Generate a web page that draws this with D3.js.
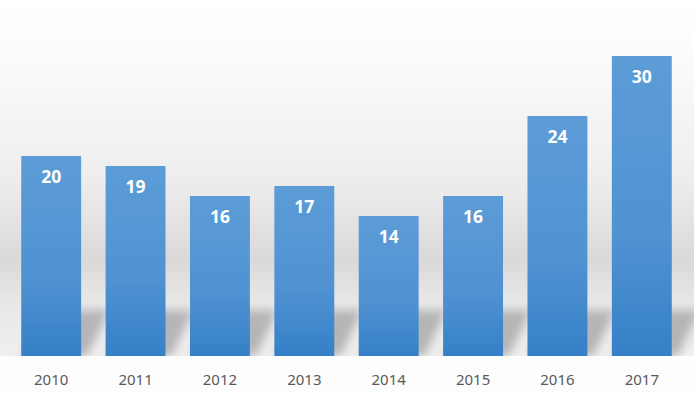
<!DOCTYPE html>
<html>
<head>
<meta charset="utf-8">
<script src="https://cdn.jsdelivr.net/npm/d3@7"></script>
<style>
  body { margin: 0; background: #fff; }
  svg { display: block; }
</style>
</head>
<body>
<svg id="chart"></svg>
<script>
const years = ["2010", "2011", "2012", "2013", "2014", "2015", "2016", "2017"];
const counts = [20, 19, 16, 17, 14, 16, 24, 30];

const width = 694, height = 394;
const baseY = 356;

const svg = d3.select("#chart")
    .attr("width", width)
    .attr("height", height)
    .style("font-family", "'Noto Sans', sans-serif");

const defs = svg.append("defs");

// backdrop: white at top, grey band in the middle, pale again low down
const bg = defs.append("linearGradient")
    .attr("id", "bg").attr("x1", 0).attr("y1", 0).attr("x2", 0).attr("y2", 1);
[[0, "#ffffff"], [0.12, "#fcfcfc"], [0.45, "#eeeeee"], [0.66, "#d9d9d9"],
 [0.76, "#e7e7e7"], [0.9, "#efefef"], [0.93, "#fbfbfb"], [1, "#ffffff"]]
    .forEach(s => bg.append("stop").attr("offset", s[0]).attr("stop-color", s[1]));

const barGrad = defs.append("linearGradient")
    .attr("id", "barGrad").attr("x1", 0).attr("y1", 0).attr("x2", 0).attr("y2", 1);
barGrad.append("stop").attr("offset", 0).attr("stop-color", "#5c9cd7");
barGrad.append("stop").attr("offset", 0.6).attr("stop-color", "#5092d2");
barGrad.append("stop").attr("offset", 1).attr("stop-color", "#3580c8");

defs.append("filter").attr("id", "blur")
    .attr("x", "-20%").attr("y", "-50%").attr("width", "140%").attr("height", "200%")
    .append("feGaussianBlur").attr("stdDeviation", 5);

svg.append("rect")
    .attr("width", width).attr("height", height)
    .attr("fill", "url(#bg)");

const x = d3.scaleBand()
    .domain(years)
    .range([9, 684])
    .paddingInner(0.29)
    .paddingOuter(0.145);

const y = d3.scaleLinear()
    .domain([0, 30])
    .range([baseY, 56]);

// soft shadow cast backwards from each bar's foot
svg.append("g")
    .attr("filter", "url(#blur)")
    .selectAll("path")
    .data(years)
    .enter().append("path")
    .attr("fill", "#b5b5b5")
    .attr("d", d => {
        const x0 = x(d), x1 = x(d) + x.bandwidth();
        return `M${x0},${baseY} L${x0 + 30},${baseY - 46} L${x1 + 28},${baseY - 46} L${x1 + 6},${baseY} Z`;
    });

svg.append("rect")
    .attr("x", 0).attr("y", baseY).attr("width", width).attr("height", height - baseY)
    .attr("fill", "#fdfdfd");

svg.append("g")
    .selectAll("rect")
    .data(counts)
    .enter().append("rect")
    .attr("x", (d, i) => x(years[i]))
    .attr("y", d => y(d))
    .attr("width", x.bandwidth())
    .attr("height", d => baseY - y(d))
    .attr("fill", "url(#barGrad)");

svg.append("g")
    .selectAll("text")
    .data(counts)
    .enter().append("text")
    .attr("x", (d, i) => x(years[i]) + x.bandwidth() / 2)
    .attr("y", d => y(d) + 27)
    .attr("text-anchor", "middle")
    .attr("fill", "#ffffff")
    .style("font-size", "17.5px")
    .style("font-weight", "bold")
    .text(d => d);

const axis = svg.append("g")
    .attr("transform", `translate(0,${baseY})`)
    .call(d3.axisBottom(x).tickSize(0).tickPadding(18));
axis.select(".domain").remove();
axis.selectAll("text")
    .attr("fill", "#595959")
    .style("font-size", "15px")
    .style("font-family", "'Noto Sans', sans-serif");
</script>
</body>
</html>
